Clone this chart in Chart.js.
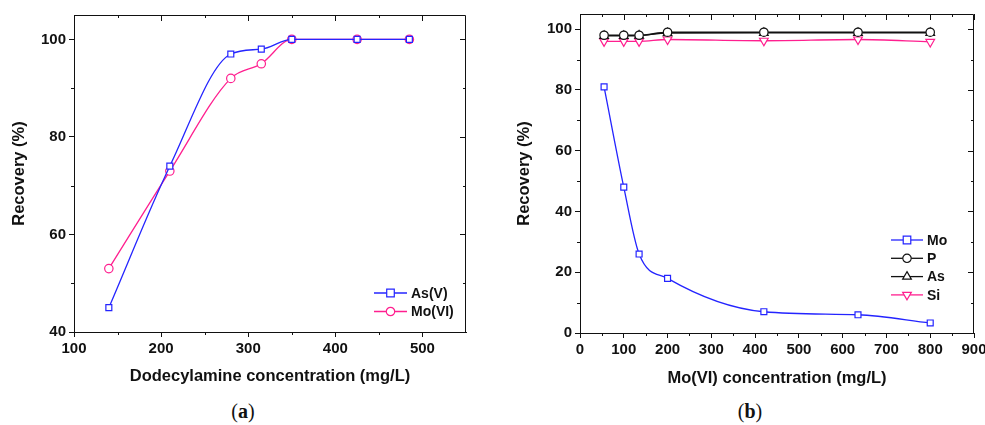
<!DOCTYPE html>
<html>
<head>
<meta charset="utf-8">
<script src="https://cdn.jsdelivr.net/npm/chart.js@4.4.0/dist/chart.umd.min.js"></script>
<style>
    body { margin: 0; background: #fff; }
    #page { position: relative; width: 985px; height: 425px; overflow: hidden; }
    #chartA { position: absolute; left: 0; top: 0; }
    #chartB { position: absolute; left: 490px; top: 0; }
    .caption { position: absolute; top: 400px; width: 60px; text-align: center; font-family: "Liberation Serif", "DejaVu Serif", serif; font-size: 20px; color: #111; }
    .caption b { font-weight: bold; }
</style>
</head>
<body>
<div id="page">
    <canvas id="chartA" width="490" height="395"></canvas>
    <canvas id="chartB" width="495" height="395"></canvas>
    <div class="caption" style="left: 213px;">(<b>a</b>)</div>
    <div class="caption" style="left: 720px;">(<b>b</b>)</div>
</div>
<script>
// (a) flotation with dodecylamine
const dodecylamine = [140, 210, 280, 315, 350, 425, 485];
const recoveryAsV = [45, 74, 97, 98, 100, 100, 100];
const recoveryMoVI = [53, 73, 92, 95, 100, 100, 100];
const xTicksA = [100, 200, 300, 400, 500];
const yTicksA = [40, 60, 80, 100];

// (b) effect of Mo(VI) concentration
const moConc = [55, 100, 135, 200, 420, 635, 800];
const recoveryMo = [81, 48, 26, 18, 7, 6, 3.3];
const recoveryP = [98, 98, 98, 99, 99, 99, 99];
const recoveryAs = [97.8, 97.8, 97.9, 98.7, 98.8, 98.8, 98.8];
const recoverySi = [96, 96, 96, 96.6, 96.2, 96.6, 95.8];
const xTicksB = [0, 100, 200, 300, 400, 500, 600, 700, 800, 900];
const yTicksB = [0, 20, 40, 60, 80, 100];

const BLUE = '#2424ff';
const PINK = '#ff1f8f';
const BLACK = '#111';

Chart.defaults.font.family = '"Liberation Sans", Arial, sans-serif';
Chart.defaults.color = BLACK;

function points(xs, ys) {
    return xs.map((x, i) => ({ x: x, y: ys[i] }));
}

function series(label, xs, ys, color, style, rotation) {
    return {
        label: label,
        data: points(xs, ys),
        borderColor: color,
        borderWidth: 1.3,
        pointStyle: style,
        pointRotation: rotation || 0,
        pointRadius: style === 'triangle' ? 5 : 4.2,
        pointBorderWidth: 1.2,
        pointBackgroundColor: '#fff',
        pointBorderColor: color,
        cubicInterpolationMode: 'monotone',
        fill: false
    };
}

function drawMarker(ctx, style, x, y, r, rot) {
    ctx.save();
    ctx.translate(x, y);
    ctx.rotate((rot || 0) * Math.PI / 180);
    ctx.beginPath();
    if (style === 'rect') {
        ctx.rect(-r * 0.9, -r * 0.9, r * 1.8, r * 1.8);
    } else if (style === 'circle') {
        ctx.arc(0, 0, r, 0, Math.PI * 2);
    } else {
        ctx.moveTo(0, -r);
        ctx.lineTo(r * 0.87, r * 0.5);
        ctx.lineTo(-r * 0.87, r * 0.5);
        ctx.closePath();
    }
    ctx.fillStyle = '#fff';
    ctx.fill();
    ctx.stroke();
    ctx.restore();
}

// box around plot, mirrored ticks on top/right, minor ticks
const framePlugin = {
    id: 'frame',
    afterDraw(chart, args, opts) {
        const { ctx, chartArea: a, scales: { x, y } } = chart;
        ctx.save();
        ctx.strokeStyle = BLACK;
        ctx.lineWidth = 1;
        ctx.beginPath();
        ctx.moveTo(a.left, a.top + 0.5);
        ctx.lineTo(a.right - 0.5, a.top + 0.5);
        ctx.lineTo(a.right - 0.5, a.bottom);
        x.ticks.forEach(t => {
            const px = Math.round(x.getPixelForValue(t.value)) + 0.5;
            ctx.moveTo(px, a.top);
            ctx.lineTo(px, a.top + 6);
        });
        y.ticks.forEach(t => {
            const py = Math.round(y.getPixelForValue(t.value)) + 0.5;
            ctx.moveTo(a.right, py);
            ctx.lineTo(a.right - 6, py);
        });
        for (let v = x.min + opts.xMinor; v < x.max; v += opts.xMinor) {
            if (x.ticks.some(t => t.value === v)) continue;
            const px = Math.round(x.getPixelForValue(v)) + 0.5;
            ctx.moveTo(px, a.bottom);
            ctx.lineTo(px, a.bottom + 3);
            ctx.moveTo(px, a.top);
            ctx.lineTo(px, a.top + 3);
        }
        for (let v = y.min + opts.yMinor; v < y.max; v += opts.yMinor) {
            if (y.ticks.some(t => t.value === v)) continue;
            const py = Math.round(y.getPixelForValue(v)) + 0.5;
            ctx.moveTo(a.left, py);
            ctx.lineTo(a.left - 3, py);
            ctx.moveTo(a.right, py);
            ctx.lineTo(a.right - 3, py);
        }
        ctx.stroke();
        ctx.restore();
    }
};

// Origin style legend: line-marker-line then label
const legendPlugin = {
    id: 'boxLegend',
    afterDraw(chart, args, opts) {
        const ctx = chart.ctx;
        ctx.save();
        ctx.font = 'bold 14px "Liberation Sans", Arial, sans-serif';
        ctx.textBaseline = 'middle';
        chart.data.datasets.forEach((ds, i) => {
            const yy = opts.y + i * opts.rowH;
            const mid = opts.x + opts.lineLen / 2;
            ctx.strokeStyle = ds.borderColor;
            ctx.lineWidth = 1.3;
            ctx.beginPath();
            ctx.moveTo(opts.x, yy);
            ctx.lineTo(opts.x + opts.lineLen, yy);
            ctx.stroke();
            ctx.lineWidth = 1.2;
            drawMarker(ctx, ds.pointStyle, mid, yy, ds.pointStyle === 'triangle' ? 5 : 4.2, ds.pointRotation);
            ctx.fillStyle = BLACK;
            ctx.fillText(ds.label, opts.x + opts.lineLen + 4, yy + 1);
        });
        ctx.restore();
    }
};

function xAxis(min, max, ticks, title, height, titlePad) {
    return {
        type: 'linear',
        min: min,
        max: max,
        afterBuildTicks: s => { s.ticks = ticks.map(v => ({ value: v })); },
        afterFit: s => { s.height = height; s.paddingLeft = 0; s.paddingRight = 0; },
        ticks: { font: { size: 15, weight: 'bold' }, color: BLACK, padding: 3, maxRotation: 0, autoSkip: false },
        grid: { drawOnChartArea: false, drawTicks: true, tickLength: 5, tickColor: BLACK, tickWidth: 1 },
        border: { display: true, color: BLACK, width: 1 },
        title: { display: true, text: title, color: BLACK, font: { size: 16.5, weight: 'bold' }, padding: { top: 0, bottom: titlePad } }
    };
}

function yAxis(min, max, ticks, width, titlePad) {
    return {
        type: 'linear',
        min: min,
        max: max,
        afterBuildTicks: s => { s.ticks = ticks.map(v => ({ value: v })); },
        afterFit: s => { s.width = width; },
        ticks: { font: { size: 15, weight: 'bold' }, color: BLACK, padding: 3 },
        grid: { drawOnChartArea: false, drawTicks: true, tickLength: 5, tickColor: BLACK, tickWidth: 1 },
        border: { display: true, color: BLACK, width: 1 },
        title: { display: true, text: 'Recovery (%)', color: BLACK, font: { size: 16.5, weight: 'bold' }, padding: { top: titlePad, bottom: 0 } }
    };
}

function buildChart(id, datasets, scales, padding, frame, legend) {
    return new Chart(document.getElementById(id), {
        type: 'line',
        data: { datasets: datasets },
        options: {
            responsive: false,
            animation: false,
            devicePixelRatio: 1,
            layout: { padding: padding },
            scales: scales,
            plugins: {
                legend: { display: false },
                tooltip: { enabled: false },
                frame: frame,
                boxLegend: legend
            }
        },
        plugins: [framePlugin, legendPlugin]
    });
}

buildChart('chartA', [
    series('As(V)', dodecylamine, recoveryAsV, BLUE, 'rect'),
    series('Mo(VI)', dodecylamine, recoveryMoVI, PINK, 'circle')
], {
    x: xAxis(100, 550, xTicksA, 'Dodecylamine concentration (mg/L)', 63, 9),
    y: yAxis(40, 105, yTicksA, 74, 10)
}, { top: 15, right: 24, left: 0, bottom: 0 },
{ xMinor: 50, yMinor: 10 },
{ x: 374, y: 293, rowH: 18.5, lineLen: 33 });

buildChart('chartB', [
    series('Mo', moConc, recoveryMo, BLUE, 'rect'),
    series('P', moConc, recoveryP, BLACK, 'circle'),
    series('As', moConc, recoveryAs, BLACK, 'triangle'),
    series('Si', moConc, recoverySi, PINK, 'triangle', 180)
], {
    x: xAxis(0, 900, xTicksB, 'Mo(VI) concentration (mg/L)', 62, 7),
    y: yAxis(0, 105, yTicksB, 90, 25)
}, { top: 14, right: 11, left: 0, bottom: 0 },
{ xMinor: 50, yMinor: 10 },
{ x: 401, y: 240, rowH: 18.3, lineLen: 32 });
</script>
</body>
</html>
